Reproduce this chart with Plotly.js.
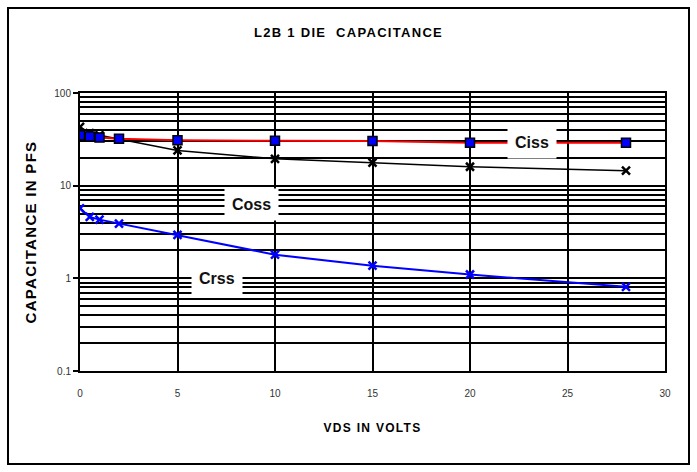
<!DOCTYPE html>
<html><head><meta charset="utf-8">
<script src="https://cdn.plot.ly/plotly-3.0.1.min.js"></script>
<style>
body{margin:0;background:#fff;}
#chart{width:697px;height:472px;}
.gtitle, .g-xtitle text, .g-ytitle text{letter-spacing:1.3px;}
</style></head>
<body><div id="chart"></div>
<script>
const vds = [0, 0.5, 1, 2, 5, 10, 15, 20, 28];
const ciss = [35, 34, 33, 32, 31, 30.5, 30.3, 29, 29];
const coss = [43, 37, 35, 32, 24, 19.5, 17.7, 16, 14.5];
const crss = [5.7, 4.6, 4.3, 3.9, 2.95, 1.8, 1.37, 1.1, 0.81];
const yTicks = [0.1, 1, 10, 100];
const yTickText = ['0.1', '1', '10', '100'];
const labels = [
  {text: 'Ciss', x: 23.2, y: 28.9},
  {text: 'Coss', x: 8.8, y: 6.2},
  {text: 'Crss', x: 7.0, y: 1.0}
];

const traces = [
  {x: vds, y: coss, mode: 'lines+markers', name: 'Coss',
   line: {color: '#000', width: 1.5},
   marker: {symbol: 'x-thin', size: 8, line: {color: '#000', width: 2.5}}},
  {x: vds, y: ciss, mode: 'lines+markers', name: 'Ciss',
   line: {color: '#ff0000', width: 2},
   marker: {symbol: 'square', size: 9, color: '#0000ff', line: {color: '#000', width: 1.5}}},
  {x: vds, y: crss, mode: 'lines+markers', name: 'Crss',
   line: {color: '#0000ff', width: 2},
   marker: {symbol: 'x-thin', size: 8, line: {color: '#0000ff', width: 2.5}}}
];

const layout = {
  width: 697, height: 472,
  margin: {l: 80, r: 32, t: 93, b: 101},
  paper_bgcolor: '#fff', plot_bgcolor: '#fff',
  showlegend: false,
  font: {family: 'Liberation Sans, Arial, sans-serif', color: '#000'},
  title: {text: '<b>L2B 1 DIE  CAPACITANCE</b>', x: 0.5, xanchor: 'center', y: 1 - 32/472, yanchor: 'middle',
          font: {size: 13, family: 'Liberation Sans, Arial, sans-serif', color: '#000'}},
  xaxis: {range: [0, 30], dtick: 5, tick0: 0, showgrid: true, gridcolor: '#000', gridwidth: 2,
          zeroline: false, showline: true, linecolor: '#000', linewidth: 2, mirror: true,
          ticks: '', ticklabelstandoff: 12,
          tickfont: {size: 10, color: '#333'},
          title: {text: '<b>VDS IN VOLTS</b>', standoff: 26, font: {size: 12, color: '#000'}}},
  yaxis: {type: 'log', range: [-1, 2], tickmode: 'array', tickvals: yTicks, ticktext: yTickText,
          showgrid: true, gridcolor: '#000', gridwidth: 2,
          minor: {dtick: 'D1', showgrid: true, gridcolor: '#000', gridwidth: 2, ticks: ''},
          zeroline: false, showline: true, linecolor: '#000', linewidth: 2, mirror: true,
          ticks: 'outside', ticklen: 5, tickwidth: 2, tickcolor: '#000',
          tickfont: {size: 10, color: '#333'},
          title: {text: '<b>CAPACITANCE IN PFS</b>', standoff: 14, font: {size: 15, color: '#000'}}},
  annotations: labels.map(l => ({
    x: l.x, y: Math.log10(l.y), xref: 'x', yref: 'y', text: '<b>' + l.text + '</b>',
    showarrow: false, bgcolor: '#fff', borderpad: 7,
    font: {size: 16, family: 'Liberation Sans, Arial, sans-serif', color: '#111'}
  })),
  shapes: [{type: 'rect', xref: 'paper', yref: 'paper',
            x0: (8 - 80) / 585, x1: (689 - 80) / 585, y0: (371 - 464) / 278, y1: (371 - 8) / 278,
            line: {color: '#000', width: 2}, fillcolor: 'rgba(0,0,0,0)'}]
};

Plotly.newPlot('chart', traces, layout, {displayModeBar: false, staticPlot: true});
</script>
</body></html>
